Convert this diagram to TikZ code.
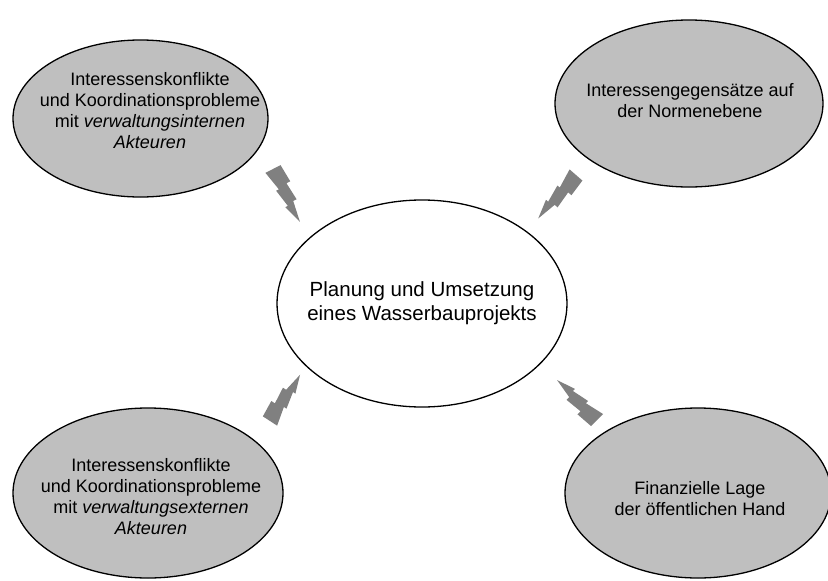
\documentclass[tikz,border=0pt]{standalone}
\usepackage{fontspec}
\setmainfont{Liberation Sans}
\usetikzlibrary{shapes.geometric}
\newcommand{\mybolt}[3]{%
  \fill[boltstyle,shift={#1},rotate=#2,xscale=#3]
    (0,8.5) -- (21,4) -- (21,7.1) -- (40,3.5) -- (40,6.4) -- (60,0)
    -- (38,-3.5) -- (38,-7.3) -- (19,-5.5) -- (19,-9.8) -- (0,-8.5) -- cycle;}
\tikzset{
  outer/.style={ellipse, draw=black, line width=1.3pt, fill=black!25, inner sep=0pt},
  inner/.style={ellipse, draw=black, line width=1.3pt, fill=white, inner sep=0pt},
  otext/.style={align=center, inner sep=0pt, font=\fontsize{18}{21}\selectfont},
  ctext/.style={align=center, inner sep=0pt, font=\fontsize{20.5}{24}\selectfont},
  boltstyle/.style={fill=black!50}
}
\begin{document}
\begin{tikzpicture}[x=1pt,y=-1pt]
\clip (0,0) rectangle (828,581);
\fill[white] (0,0) rectangle (828,581);
% ellipses
\node[outer, minimum width=255pt, minimum height=157pt] (tl) at (140.5,118.5) {};
\node[outer, minimum width=268pt, minimum height=167pt] (tr) at (689,103.5) {};
\node[inner, minimum width=290pt, minimum height=207pt] (c) at (422,303.5) {};
\node[outer, minimum width=270pt, minimum height=170pt] (bl) at (148,493) {};
\node[outer, minimum width=266pt, minimum height=170pt] (br) at (698,493) {};
% texts
\node[otext] (tlt) at (150,110.5)
  {Interessenskonflikte\\und Koordinationsprobleme\\mit \textit{verwaltungsinternen}\\\textit{Akteuren}};
\node[otext] (trt) at (690,101)
  {Interessengegensätze auf\\der Normenebene};
\node[ctext] (ct) at (422,303)
  {Planung und Umsetzung\\eines Wasserbauprojekts};
\node[otext] (blt) at (151,497)
  {Interessenskonflikte\\und Koordinationsprobleme\\mit \textit{verwaltungsexternen}\\\textit{Akteuren}};
\node[otext] (brt) at (700,499)
  {Finanzielle Lage\\der öffentlichen Hand};
% lightning bolts
\mybolt{(273,169)}{-63}{0.99}
\mybolt{(576,175)}{-131}{0.96}
\mybolt{(270,421)}{57}{0.92}
\mybolt{(597,420)}{135}{0.94}
\end{tikzpicture}
\end{document}
